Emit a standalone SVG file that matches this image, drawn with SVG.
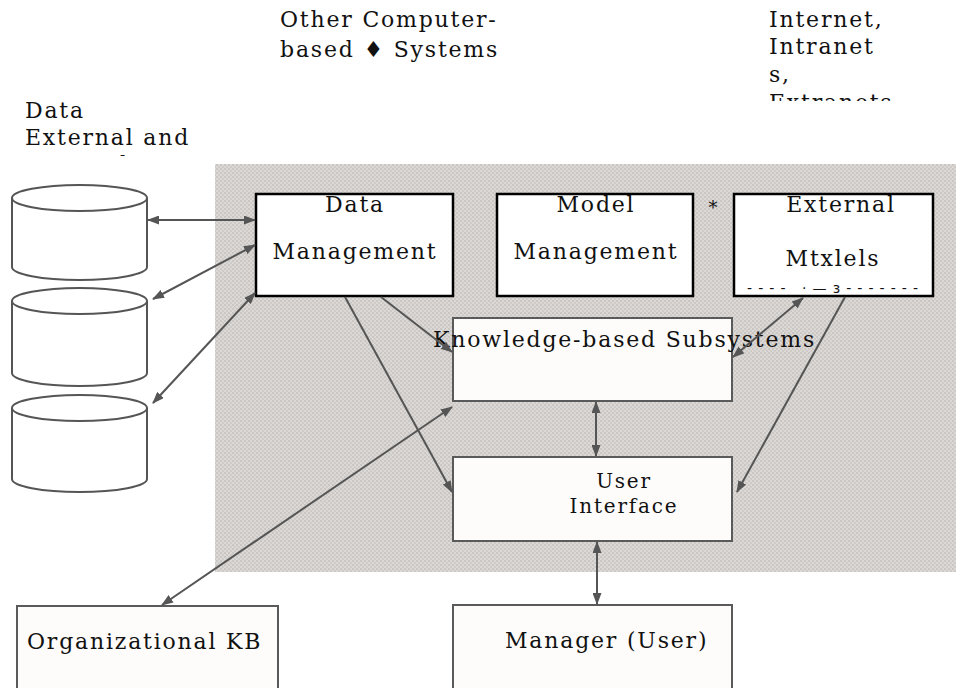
<svg xmlns="http://www.w3.org/2000/svg" width="956" height="688" viewBox="0 0 956 688">
<defs>
<pattern id="ht" width="4" height="4" patternUnits="userSpaceOnUse">
<rect width="4" height="4" fill="#dcd8d5"/>
<rect x="0" y="0" width="2" height="2" fill="#cac6c3"/>
<rect x="2" y="2" width="2" height="2" fill="#cecac7"/>
</pattern>
<marker id="ah" viewBox="0 0 12 9" refX="11" refY="4.5" markerWidth="12" markerHeight="9" markerUnits="userSpaceOnUse" orient="auto-start-reverse">
<path d="M0,0 L12,4.5 L0,9 z" fill="#555"/>
</marker>
<clipPath id="clipL"><rect x="0" y="90" width="240" height="66"/></clipPath>
<clipPath id="clipR"><rect x="740" y="0" width="216" height="101"/></clipPath>
</defs>
<style>
.t{font-family:"DejaVu Serif","Liberation Serif",serif;font-size:22px;letter-spacing:1.8px;fill:#111}
.m{text-anchor:middle}
.s{font-size:20px}
.bx{fill:#fff;stroke:#000;stroke-width:2.5}
.lb{fill:#fdfcfa;stroke:#5a5a5a;stroke-width:2}
.cy{fill:#fff;stroke:#555;stroke-width:2}
.c{stroke:#555;stroke-width:2;fill:none}
</style>
<rect width="956" height="688" fill="#fff"/>
<rect id="shade" x="215" y="164" width="741" height="408" fill="url(#ht)"/>

<g id="label-other">
<text class="t" x="280" y="27">Other Computer-</text>
<text class="t" x="280" y="57">based ♦ Systems</text>
</g>
<g id="label-internet" clip-path="url(#clipR)">
<text class="t" x="769" y="27">Internet,</text>
<text class="t" x="769" y="54">Intranet</text>
<text class="t" x="769" y="82">s,</text>
<text class="t" x="769" y="110">Extranets</text>
</g>
<g id="label-data" clip-path="url(#clipL)">
<text class="t" x="25" y="118">Data</text>
<text class="t" x="25" y="145">External and</text>
<text class="t" x="25" y="172">Internal</text>
</g>

<g id="db1"><path class="cy" d="M12,198 L12,267 A67.5,13 0 0 0 147,267 L147,198"/><ellipse class="cy" cx="79.5" cy="198" rx="67.5" ry="13"/></g>
<g id="db2"><path class="cy" d="M12,301 L12,373 A67.5,13 0 0 0 147,373 L147,301"/><ellipse class="cy" cx="79.5" cy="301" rx="67.5" ry="13"/></g>
<g id="db3"><path class="cy" d="M12,408 L12,479 A67.5,13 0 0 0 147,479 L147,408"/><ellipse class="cy" cx="79.5" cy="408" rx="67.5" ry="13"/></g>

<g id="data-mgmt">
<rect class="bx" x="256" y="194" width="197" height="102"/>
<text class="t m" x="355" y="212">Data</text>
<text class="t m" x="355" y="259">Management</text>
</g>
<g id="model-mgmt">
<rect class="bx" x="497" y="194" width="196" height="102"/>
<text class="t m" x="596" y="212">Model</text>
<text class="t m" x="596" y="259">Management</text>
</g>
<text id="star" x="713" y="214" style="font-family:'DejaVu Serif',serif;font-size:18px;text-anchor:middle;fill:#111">*</text>
<g id="external">
<rect class="bx" x="734" y="194" width="199" height="102"/>
<text class="t m" x="841" y="212">External</text>
<text class="t m" x="833" y="266">Mtxlels</text>
<text x="747" y="293" textLength="171" lengthAdjust="spacing" style="font-family:'DejaVu Sans',sans-serif;font-size:14px;fill:#111">---- ·—з-------</text>
</g>

<g id="kbs">
<rect class="lb" x="453" y="318" width="279" height="83"/>
<text class="t" x="433" y="347">Knowledge-based Subsystems</text>
</g>
<g id="ui">
<rect class="lb" x="453" y="457" width="279" height="84"/>
<text class="t s m" x="624" y="488">User</text>
<text class="t s m" x="624" y="513">Interface</text>
</g>
<g id="manager">
<rect class="lb" x="453" y="605" width="279" height="95"/>
<text class="t" x="505" y="648">Manager (User)</text>
</g>
<g id="orgkb">
<rect class="lb" x="17" y="606" width="261" height="95"/>
<text class="t" x="27" y="649">Organizational KB</text>
</g>

<g id="connectors">
<line class="c" x1="148" y1="220" x2="255" y2="220" marker-start="url(#ah)" marker-end="url(#ah)"/>
<line class="c" x1="153" y1="299" x2="255" y2="245" marker-start="url(#ah)" marker-end="url(#ah)"/>
<line class="c" x1="153" y1="403" x2="255" y2="293" marker-start="url(#ah)" marker-end="url(#ah)"/>
<line class="c" x1="381" y1="297" x2="452" y2="352" marker-end="url(#ah)"/>
<line class="c" x1="345" y1="297" x2="452" y2="492" marker-end="url(#ah)"/>
<line class="c" x1="162" y1="605" x2="452" y2="407" marker-start="url(#ah)" marker-end="url(#ah)"/>
<line class="c" x1="803" y1="298" x2="733" y2="357" marker-start="url(#ah)" marker-end="url(#ah)"/>
<line class="c" x1="845" y1="297" x2="737" y2="492" marker-end="url(#ah)"/>
<line class="c" x1="596" y1="402" x2="596" y2="456" marker-start="url(#ah)" marker-end="url(#ah)"/>
<line class="c" x1="597" y1="542" x2="597" y2="604" marker-start="url(#ah)" marker-end="url(#ah)"/>
</g>
</svg>
